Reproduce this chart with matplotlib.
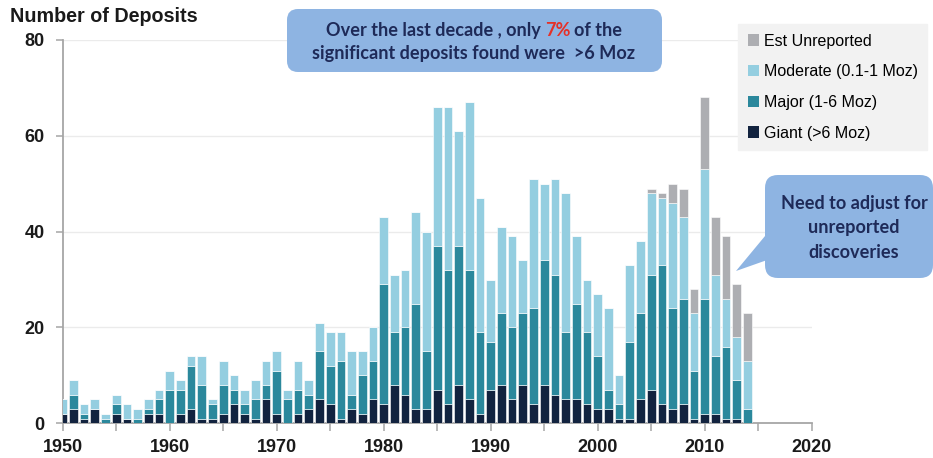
import matplotlib
matplotlib.use("Agg")
import matplotlib.pyplot as plt
from matplotlib.patches import FancyBboxPatch, Polygon, Patch

# ---------------- data ----------------
years = list(range(1950, 2015))
giant = [2, 3, 1, 3, 0, 2, 1, 0, 2, 2,
         0, 2, 3, 1, 1, 2, 4, 2, 1, 5,
         2, 0, 2, 3, 5, 4, 1, 3, 2, 5,
         4, 8, 6, 3, 3, 7, 4, 8, 5, 2,
         7, 8, 5, 8, 4, 8, 6, 5, 5, 4,
         3, 3, 1, 1, 5, 7, 4, 3, 4, 1,
         2, 2, 1, 1, 0]
major = [0, 3, 1, 0, 1, 2, 0, 1, 1, 3,
         7, 5, 9, 7, 3, 6, 3, 2, 4, 3,
         9, 5, 5, 3, 10, 8, 12, 3, 8, 8,
         25, 11, 14, 22, 12, 30, 28, 29, 27, 17,
         10, 15, 15, 15, 20, 26, 25, 14, 20, 15,
         11, 4, 3, 16, 18, 24, 29, 21, 22, 10,
         24, 12, 15, 8, 3]
moderate = [3, 3, 2, 2, 1, 2, 3, 2, 2, 2,
            4, 2, 2, 6, 1, 5, 3, 3, 4, 5,
            4, 2, 6, 3, 6, 7, 6, 9, 5, 7,
            14, 12, 12, 19, 25, 29, 34, 24, 35, 28,
            13, 18, 19, 11, 27, 16, 20, 29, 14, 11,
            13, 17, 6, 16, 15, 17, 14, 22, 17, 12,
            27, 17, 10, 9, 10]
unreported = [0] * 55 + [1, 1, 4, 6, 5, 15, 12, 13, 11, 10]

series_labels = ["Est Unreported", "Moderate (0.1-1 Moz)", "Major (1-6 Moz)", "Giant (>6 Moz)"]
y_label = "Number of Deposits"
callout1_parts = ["Over the last decade , only", "7%", "of the"]
callout1_line2 = "significant deposits found were  >6 Moz"
callout2_lines = ["Need to adjust for", "unreported", "discoveries"]

# ---------------- style ----------------
c_giant = "#12233F"
c_major = "#2B889C"
c_moderate = "#94CEE0"
c_unrep = "#ADAEB2"
c_box = "#8EB4E2"
c_navy = "#1E2A58"
c_red = "#E53128"
axis_gray = "#A6A6A6"

W, H = 933, 458
fig = plt.figure(figsize=(W / 100, H / 100), dpi=100)
ax = fig.add_axes([62.7 / W, 1 - 423.3 / H, (811.7 - 62.7) / W, (423.3 - 40) / H])

bw = 0.82
b1 = giant
b2 = [g + m for g, m in zip(giant, major)]
b3 = [a + m for a, m in zip(b2, moderate)]
kw = dict(width=bw, edgecolor="white", linewidth=0.4, zorder=3)
ax.bar(years, giant, color=c_giant, **kw)
ax.bar(years, major, bottom=b1, color=c_major, **kw)
ax.bar(years, moderate, bottom=b2, color=c_moderate, **kw)
ax.bar(years, unreported, bottom=b3, color=c_unrep, **kw)

ax.set_xlim(1950, 2020)
ax.set_ylim(0, 80)
ax.set_yticks([0, 20, 40, 60, 80])
ax.set_xticks(range(1950, 2021, 10))
ax.set_xticks(range(1955, 2020, 10), minor=True)
ax.yaxis.grid(True, color="#EBEBEB", linewidth=1.0, zorder=0)
ax.set_axisbelow(True)
for s in ["top", "right"]:
    ax.spines[s].set_visible(False)
for s in ["left", "bottom"]:
    ax.spines[s].set_color(axis_gray)
    ax.spines[s].set_linewidth(1.3)
ax.tick_params(axis="both", which="both", direction="out", color=axis_gray, width=1.1)
ax.tick_params(axis="y", length=5, pad=8)
ax.tick_params(axis="x", which="both", length=6, pad=5)
for lab in ax.get_xticklabels() + ax.get_yticklabels():
    lab.set_fontfamily("Liberation Sans")
    lab.set_fontweight("bold")
    lab.set_fontsize(13)
    lab.set_color("#1A1A1A")

fig.text(10 / W, 1 - 17 / H, y_label, ha="left", va="center", fontsize=14.2,
         fontweight="bold", family="Liberation Sans", color="#1A1A1A")

handles = [Patch(facecolor=c, edgecolor="none") for c in [c_unrep, c_moderate, c_major, c_giant]]
leg = ax.legend(handles, series_labels, loc="upper left", bbox_to_anchor=(738 / W, 1 - 24 / H),
                bbox_transform=fig.transFigure, frameon=True, fancybox=False,
                facecolor="#F2F2F2", edgecolor="#F2F2F2", framealpha=1,
                prop={"family": "Liberation Sans", "size": 11.5},
                handlelength=0.7, handleheight=0.7, handletextpad=0.3,
                labelspacing=0.98, borderpad=0.6, borderaxespad=0)
leg.set_zorder(10)

# ---------------- overlay in pixel coords ----------------
ov = fig.add_axes([0, 0, 1, 1], zorder=20)
ov.set_xlim(0, W)
ov.set_ylim(H, 0)
ov.axis("off")
ov.patch.set_alpha(0)

box1 = FancyBboxPatch((287, 9), 375, 63, boxstyle="round,pad=0,rounding_size=11",
                      facecolor=c_box, edgecolor="none")
ov.add_patch(box1)

tail = Polygon([(770, 230), (736, 271), (770, 259)], closed=True, facecolor=c_box, edgecolor="none")
ov.add_patch(tail)
box2 = FancyBboxPatch((765, 175), 168, 103, boxstyle="round,pad=0,rounding_size=13",
                      facecolor=c_box, edgecolor="none")
ov.add_patch(box2)

tkw = dict(family="Lato", fontweight="bold", fontsize=13.1, va="center")
fig.canvas.draw()
r = fig.canvas.get_renderer()


def width_of(s):
    t = ov.text(0, 0, s, **tkw)
    w = t.get_window_extent(r).width
    t.remove()
    return w


full = " ".join(callout1_parts)
wfull = width_of(full)
w_pre7 = width_of(callout1_parts[0] + " " + callout1_parts[1])
w7 = width_of(callout1_parts[1])
xc = 474
x0 = xc - wfull / 2
y1 = 30.5
ov.text(x0, y1, callout1_parts[0], ha="left", color=c_navy, **tkw)
ov.text(x0 + w_pre7 - w7, y1, callout1_parts[1], ha="left", color=c_red, **tkw)
ov.text(x0 + wfull, y1, callout1_parts[2], ha="right", color=c_navy, **tkw)
ov.text(xc, 53.5, callout1_line2, ha="center", color=c_navy, **tkw)

for i, s in enumerate(callout2_lines):
    ov.text(854, 204 + i * 24, s, ha="center", color=c_navy, **tkw)

fig.savefig("out.png", dpi=100)
